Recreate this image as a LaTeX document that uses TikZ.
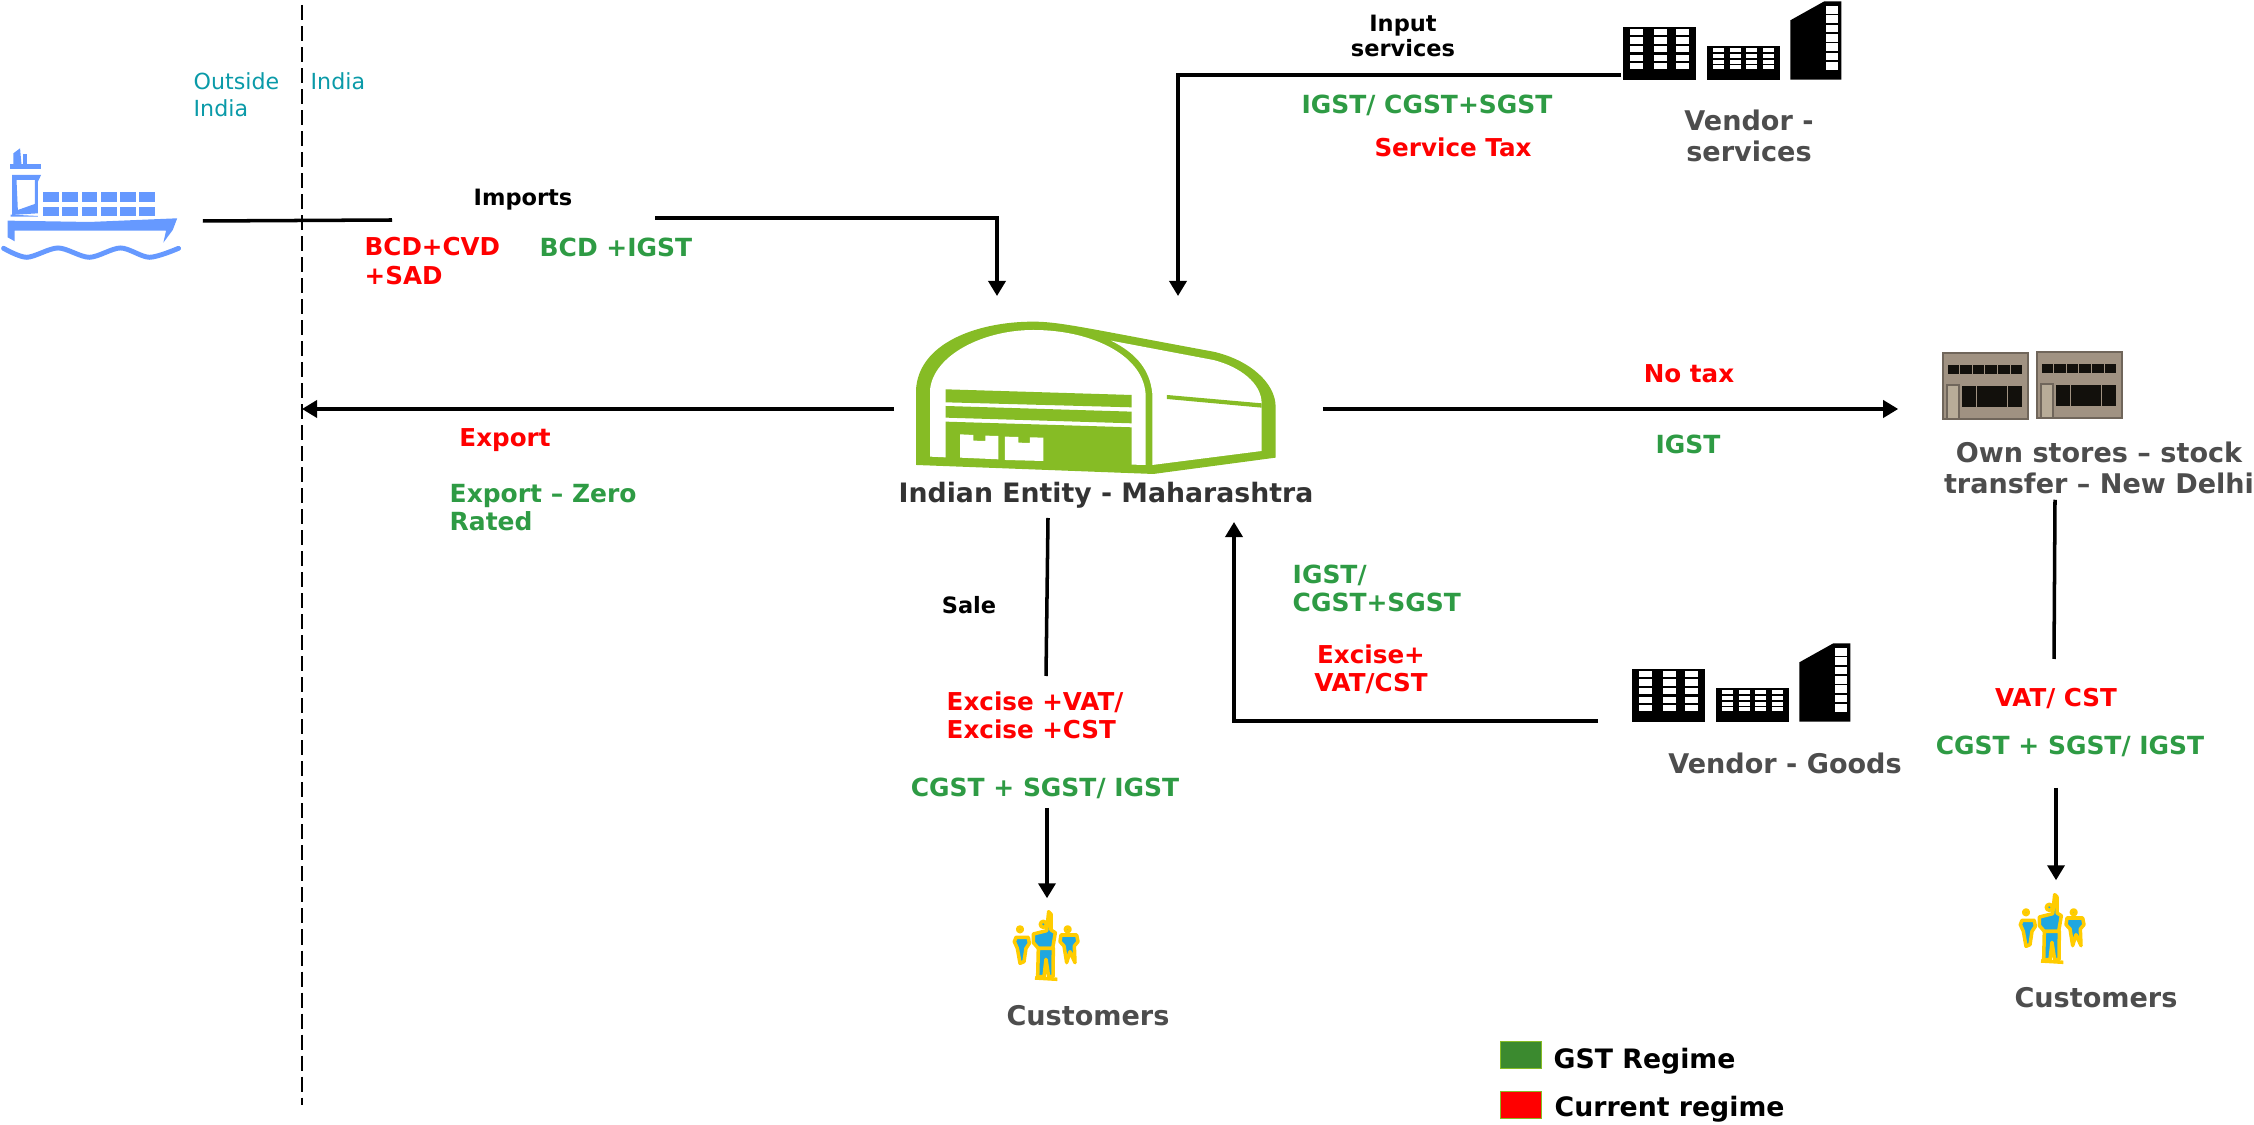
\documentclass[tikz,border=0pt]{standalone}
\usepackage{fontspec}
\setmainfont{DejaVu Sans}
\usetikzlibrary{arrows.meta,positioning}
\definecolor{TaxRed}{HTML}{FF0000}
\definecolor{TaxGreen}{HTML}{2E9B44}
\definecolor{SideTeal}{HTML}{0A9AA8}
\definecolor{ShipBlue}{HTML}{6699FF}
\definecolor{ShedGreen}{HTML}{86BC25}
\definecolor{LabelGray}{HTML}{4D4D4D}
\definecolor{EntityGray}{HTML}{333333}
\definecolor{StoreBody}{HTML}{A09282}
\definecolor{StoreDoor}{HTML}{B8AC98}
\definecolor{StoreDark}{HTML}{12100C}
\definecolor{CrowdYellow}{HTML}{FFCC00}
\definecolor{CrowdBlue}{HTML}{1FA7E0}
\definecolor{LegendGreen}{HTML}{3B8A2F}
\tikzset{
  vendoricon/.pic={
    \fill (97,148) rectangle (316,305);
    \fill (348,205) rectangle (566,305);
    \fill (598,127) -- (700,70) -- (751,70) -- (751,305) -- (598,305) -- cycle;
    \foreach \wx in {118,188,255}
      \foreach \wy in {153,178,204,230,255}
        \fill[white] (\wx,\wy) rectangle ++(39,19);
    \foreach \wx in {367,418,466,515}
      \foreach \wy in {211,228,245,261}
        \fill[white] (\wx,\wy) rectangle ++(33,12);
    \foreach \wy in {84,112,140,168,196,224,252}
      \fill[white] (705,\wy) rectangle ++(36,23);
  },
  storeicon/.pic={
    \fill[StoreBody, draw=StoreBody!70!black, line width=0.3pt] (0,0) rectangle (85,66);
    \foreach \wx in {4.6,17.2,29.8,42.4,55,67.6}
      \fill[StoreDark] (\wx,12) rectangle ++(11.6,9);
    \foreach \wx in {19,34.2,49.4,64.6}
      \fill[StoreDark] (\wx,33) rectangle ++(14.4,21);
    \fill[StoreDoor, draw=StoreBody!70!black, line width=0.3pt] (4,32) rectangle (16,66);
  },
  crowdicon/.pic={
    \begin{scope}[fill=CrowdBlue, draw=CrowdYellow, line width=1pt, line join=round]
      \filldraw (120,148) circle (7);
      \filldraw (108,172) -- (145,172) -- (148,190) -- (138,205) -- (132,245) -- (120,250) -- (112,205) -- (103,185) -- cycle;
      \filldraw (263,148) circle (7);
      \filldraw (243,165) -- (290,165) -- (294,185) -- (283,198) -- (285,248) -- (270,215) -- (260,248) -- (252,198) -- (240,185) -- cycle;
      \filldraw (190,133) circle (9);
      \filldraw (206,95) -- (213,102) -- (213,150) -- (226,158) -- (222,182) -- (218,205) -- (175,205) -- (160,188) -- (160,162) -- (200,152) -- cycle;
      \filldraw (175,205) -- (220,205) -- (219,290) -- (206,290) -- (198,238) -- (192,290) -- (173,290) -- cycle;
      \draw (165,294) -- (232,298);
    \end{scope}
  }
}
\begin{document}
\begin{tikzpicture}[
    x=0.01cm, y=-0.01cm,
    taxred/.style={font=\fontsize{7}{8}\selectfont\bfseries, text=TaxRed, align=center, inner sep=0pt},
    taxgreen/.style={font=\fontsize{7.1}{8}\selectfont\bfseries, text=TaxGreen, align=center, inner sep=0pt},
    flowname/.style={font=\fontsize{6.4}{7.2}\selectfont\bfseries, text=black, align=center, inner sep=0pt},
    partyname/.style={font=\fontsize{7.7}{8.6}\selectfont\bfseries, text=LabelGray, align=center, inner sep=0pt},
    sidename/.style={font=\fontsize{6.3}{7.8}\selectfont, text=SideTeal, align=left, inner sep=0pt},
    legendname/.style={font=\fontsize{7.6}{8.6}\selectfont\bfseries, text=black, inner sep=0pt, anchor=west},
    legendbox/.style={draw=ShedGreen, line width=0.45pt, minimum width=0.41cm, minimum height=0.27cm, inner sep=0pt},
    iconbox/.style={inner sep=0pt},
    flow/.style={line width=1pt, -{Triangle[length=0.15cm, width=0.17cm]}},
    plain/.style={line width=1pt},
    border/.style={line width=0.6pt, dash pattern=on 0.15cm off 0.06cm}
  ]
    \useasboundingbox (0,0) rectangle (2254,1125);

    \begin{scope}[xscale=0.4464, yscale=0.3333, ShipBlue]
      \foreach \cx in {97,140,183,226,269,312}
        \foreach \cy in {577,620}
          \fill (\cx,\cy) rectangle ++(35,28);
      \fill (30,460) -- (45,445) -- (48,492) -- (30,492) -- cycle;
      \fill (52,462) rectangle (60,492);
      \fill (22,492) rectangle (92,508);
      \fill[even odd rule] (27,525) -- (92,525) -- (85,545) -- (85,640) -- (27,645) -- cycle
        (37,540) -- (78,540) -- (78,612) -- (40,630) -- cycle;
      \fill (24,644) -- (85,648) -- (85,650) -- (24,650) -- cycle;
      \fill (17,662) -- (200,666) -- (397,655) -- (387,690) -- (366,728) -- (372,692) -- (33,692) -- (33,724) -- (17,712) -- cycle;
      \draw[line width=1.4pt, line cap=round] plot[smooth] coordinates {(8,745) (60,772) (130,744) (200,772) (270,744) (335,772) (400,745)};
    \end{scope}

    \begin{scope}[shift={(880,300)}, scale=0.3333, ShedGreen]
      \fill (108,495) -- (108,270) .. controls (115,130) and (290,65) .. (460,65)
        .. controls (540,65) and (620,85) .. (1000,155)
        .. controls (1110,180) and (1187,250) .. (1187,320)
        -- (1187,473) -- (820,522) -- cycle;
      \fill[white] (150,470) -- (150,270) .. controls (160,165) and (310,90) .. (460,90)
        .. controls (640,90) and (797,170) .. (797,290) -- (797,495) -- (600,490) -- cycle;
      \fill[white] (693,122) -- (1000,180) .. controls (1080,200) and (1145,250) .. (1145,310)
        -- (1145,453) -- (817,495) -- (817,280) .. controls (810,210) and (770,160) .. cycle;
      \fill (197,268) -- (755,285) -- (755,322) -- (197,307) -- cycle;
      \fill (197,318) -- (755,335) -- (755,370) -- (197,353) -- cycle;
      \fill (197,365) -- (755,382) -- (755,500) -- (197,480) -- cycle;
      \fill[white] (240,403) -- (280,405) -- (280,422) -- (316,423) -- (316,407) -- (355,408) -- (355,478) -- (240,473) -- cycle;
      \fill[white] (375,410) -- (415,411) -- (415,428) -- (450,429) -- (450,412) -- (490,413) -- (490,483) -- (375,480) -- cycle;
      \fill (861,285) -- (1145,310) -- (1145,323) -- (861,297) -- cycle;
    \end{scope}

    \pic[scale=0.3333] at (1591,-22) {vendoricon};
    \pic[scale=0.3333] at (1600,620) {vendoricon};
    \pic at (1943,353) {storeicon};
    \pic at (2037,352) {storeicon};
    \pic[scale=0.3333] at (980,880) {crowdicon};
    \pic[scale=0.3333] at (1986,863) {crowdicon};

    \node[iconbox, minimum width=2cm, minimum height=0.76cm] (ship) at (102,221) {};
    \node[iconbox, minimum width=4.27cm, minimum height=2.26cm] (shed) at (1108.5,409) {};
    \node[iconbox, minimum width=3.12cm, minimum height=1.8cm] (stores) at (2055,409) {};
    \node[iconbox, minimum width=2.3cm, minimum height=1.2cm] (vendorserv) at (1737,75) {};
    \node[iconbox, minimum width=2.6cm, minimum height=1cm] (vendorgoods) at (1729,721) {};
    \node[iconbox, minimum width=0.7cm, minimum height=0.9cm] (crowda) at (1047,944) {};
    \node[iconbox, minimum width=0.7cm, minimum height=0.9cm] (crowdb) at (2056,926) {};

    \coordinate (shedimp) at (997,296);
    \coordinate (shedinp) at (1178,296);
    \coordinate (shedgoods) at (1234,522);
    \coordinate (shedsale) at (1048,518);
    \coordinate (borderexp) at (302,409);
    \coordinate (impstop) at (392,220);
    \coordinate (impstart) at (655,218);
    \coordinate (salestop) at (1046,676);
    \coordinate (salestart) at (1047,808);
    \coordinate (storestop) at (2054,659);
    \coordinate (storestart) at (2056,788);
    \coordinate (bordertop) at (302,5);
    \coordinate (borderbot) at (302,1105);

    \draw[border] (bordertop) -- (borderbot);
    \draw[plain] (ship.east) -- (impstop);
    \draw[flow] (impstart) -| (shedimp);
    \draw[flow] (vendorserv.west) -| (shedinp);
    \draw[flow] (shed.west) -- (borderexp);
    \draw[flow] (shed.east) -- (stores.west);
    \draw[plain] (shedsale) -- (salestop);
    \draw[flow] (salestart) -- (crowda.north);
    \draw[flow] (vendorgoods.west) -| (shedgoods);
    \draw[plain] (stores.south) -- (storestop);
    \draw[flow] (storestart) -- (crowdb.north);

    \node[sidename, anchor=west] (outside) at (193,95) {Outside\\India};
    \node[sidename, anchor=west] (inside) at (310,81) {India};

    \node[flowname] (imports) at (523,200) {Imports};
    \node[taxred, anchor=west, align=left] (impold) at (364,261) {BCD+CVD\\+SAD};
    \node[taxgreen, anchor=west] (impnew) at (539,247) {BCD +IGST};

    \node[flowname] (inputs) at (1403,36) {Input\\services};
    \node[taxgreen] (inpnew) at (1427,105) {IGST/ CGST+SGST};
    \node[taxred] (inpold) at (1453,147) {Service Tax};
    \node[partyname] (vendorservname) at (1749,136) {Vendor -\\services};

    \node[taxred] (expold) at (505,440) {Export};
    \node[taxgreen, anchor=west, align=left] (expnew) at (449,508) {Export -- Zero\\Rated};

    \node[partyname, text=EntityGray, font=\fontsize{7.6}{8.6}\selectfont\bfseries] (shedname) at (1106,495) {Indian Entity - Maharashtra};

    \node[taxred] (stockold) at (1689,374) {No tax};
    \node[taxgreen] (stocknew) at (1688,444) {IGST};
    \node[partyname] (storesname) at (2099,468) {Own stores -- stock\\transfer -- New Delhi};

    \node[flowname] (sale) at (969,605) {Sale};
    \node[taxred, anchor=west, align=left] (saleold) at (946,715) {Excise +VAT/\\Excise +CST};
    \node[taxgreen] (salenew) at (1045,788) {CGST + SGST/ IGST};
    \node[partyname] (crowdaname) at (1088,1016) {Customers};

    \node[taxgreen, anchor=west, align=left] (goodsnew) at (1292,588) {IGST/\\CGST+SGST};
    \node[taxred] (goodsold) at (1371,669) {Excise+\\VAT/CST};
    \node[partyname] (vendorgoodsname) at (1785,763) {Vendor - Goods};

    \node[taxred] (retailold) at (2056,699) {VAT/ CST};
    \node[taxgreen] (retailnew) at (2070,746) {CGST + SGST/ IGST};
    \node[partyname] (crowdbname) at (2096,998) {Customers};

    \node[legendbox, fill=LegendGreen] (legendnew) at (1521,1055) {};
    \node[legendbox, fill=TaxRed] (legendold) at (1521,1105) {};
    \node[legendname] (legendnewname) at (1553,1061) {GST Regime};
    \node[legendname] (legendoldname) at (1554,1109) {Current regime};
  \end{tikzpicture}
\end{document}
